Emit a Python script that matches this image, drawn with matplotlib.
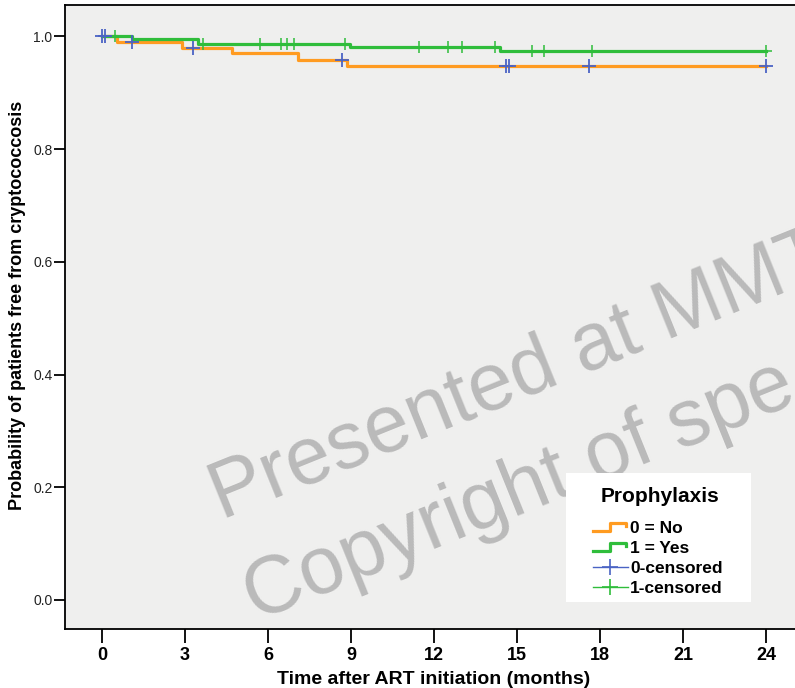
import matplotlib
matplotlib.use('Agg')
import matplotlib.pyplot as plt
import numpy as np
from matplotlib.legend_handler import HandlerBase
from matplotlib.lines import Line2D
from matplotlib.patches import Rectangle

# Kaplan-Meier steps
time_no = [0.0, 0.53, 2.88, 4.69, 7.10, 8.87, 24.0]
surv_no = [1.0, 0.991, 0.979, 0.970, 0.958, 0.948, 0.948]
cens_no = [0.0, 0.12, 1.07, 3.30, 8.66, 14.62, 14.72, 17.60, 24.0]

time_yes = [0.0, 1.07, 3.48, 8.97, 14.38, 24.0]
surv_yes = [1.0, 0.995, 0.987, 0.981, 0.975, 0.975]
cens_yes = [0.47, 3.66, 5.70, 6.46, 6.70, 6.95, 8.78, 11.45, 12.52,
            13.02, 14.20, 15.53, 15.97, 17.72, 24.0]

x_ticks = [0, 3, 6, 9, 12, 15, 18, 21, 24]
y_ticks = [0.0, 0.2, 0.4, 0.6, 0.8, 1.0]
legend_labels = ['0 = No', '1 = Yes', '0-censored', '1-censored']

ORANGE = '#ff9b21'
GREEN = '#2fbd3b'
BLUE = '#4a63c4'
NARROW = ['Liberation Sans Narrow', 'Liberation Sans', 'DejaVu Sans']
SANS = ['Liberation Sans', 'DejaVu Sans']


def level_at(times, surv, t):
    idx = np.searchsorted(times, t, side='right') - 1
    return np.asarray(surv)[idx]


class StepHandler(HandlerBase):
    # little step icon like the SPSS legend
    def create_artists(self, legend, orig_handle, xdescent, ydescent,
                       width, height, fontsize, trans):
        x0, y0 = -xdescent, -ydescent
        xs = [x0, x0 + 0.5 * width, x0 + 0.5 * width, x0 + 0.95 * width, x0 + 0.95 * width]
        ys = [y0 + 0.15 * height, y0 + 0.15 * height, y0 + 0.85 * height,
              y0 + 0.85 * height, y0 + 0.55 * height]
        line = Line2D(xs, ys, color=orig_handle.get_color(),
                      lw=orig_handle.get_linewidth(), transform=trans)
        return [line]


fig = plt.figure(figsize=(7.95, 6.88), dpi=100)
ax = fig.add_axes([65 / 795, 59 / 688, 745 / 795, 624 / 688])
ax.set_facecolor('#efefee')

line_no, = ax.step(time_no, surv_no, where='post', color=ORANGE, lw=2.3, zorder=3)
line_yes, = ax.step(time_yes, surv_yes, where='post', color=GREEN, lw=2.3, zorder=4)
ax.plot(cens_yes, level_at(time_yes, surv_yes, cens_yes), ls='none', marker='+',
        ms=8, mew=1.1, color=GREEN, zorder=5)
ax.plot(cens_no, level_at(time_no, surv_no, cens_no), ls='none', marker='+',
        ms=10, mew=1.3, color=BLUE, zorder=6)

ax.set_xlim(-1.337, 25.59)
ax.set_ylim(-0.0515, 1.0559)
ax.set_xticks(x_ticks)
ax.set_yticks(y_ticks)
ax.set_yticklabels([f'{v:.1f}' for v in y_ticks], family=SANS, fontsize=10,
                   color='#222222')
ax.set_xticklabels([str(v) for v in x_ticks], family=NARROW, fontsize=13,
                   weight='bold')
ax.tick_params(axis='x', length=10, width=1.3, pad=3)
ax.tick_params(axis='y', length=8, width=1.3, pad=1)
for sp in ax.spines.values():
    sp.set_linewidth(1.3)

fig.text(434 / 795, 9 / 688, 'Time after ART initiation (months)',
         ha='center', va='center', family=NARROW, weight='bold', fontsize=14)
fig.text(18 / 795, (688 - 305) / 688, 'Probability of patients free from cryptococcosis',
         ha='center', va='center', rotation=90, family=NARROW, weight='bold', fontsize=13)

# watermark
wm = dict(transform=fig.transFigure, rotation=22, rotation_mode='anchor',
          ha='left', va='baseline', family=SANS, fontsize=58, color='#bababa',
          zorder=2, clip_on=False)
ax.text(222 / 795, (688 - 520) / 688, 'Presented at MMT', **wm)
ax.text(256 / 795, (688 - 621) / 688, 'Copyright of spe', **wm)

# legend box
ax.add_patch(Rectangle((566 / 795, (688 - 602) / 688), 185 / 795, 129 / 688,
                       transform=fig.transFigure, facecolor='white',
                       edgecolor='none', zorder=7))
fig.text(660 / 795, (688 - 496) / 688, 'Prophylaxis', ha='center', va='center',
         family=SANS, weight='bold', fontsize=15, zorder=9)
h_cens_no = Line2D([], [], color=BLUE, lw=1.0, marker='+', ms=11, mew=1.2)
h_cens_yes = Line2D([], [], color=GREEN, lw=1.0, marker='+', ms=11, mew=1.2)
leg = ax.legend([line_no, line_yes, h_cens_no, h_cens_yes], legend_labels,
                handler_map={line_no: StepHandler(), line_yes: StepHandler()},
                loc='upper left', bbox_to_anchor=(593 / 795, (688 - 521) / 688),
                bbox_transform=fig.transFigure, frameon=False,
                prop={'weight': 'bold', 'size': 12.5, 'family': SANS},
                handlelength=2.0, handletextpad=0.15, labelspacing=0.27,
                borderpad=0, borderaxespad=0, numpoints=1)
leg.set_zorder(8)

fig.savefig('out.png', dpi=100)
